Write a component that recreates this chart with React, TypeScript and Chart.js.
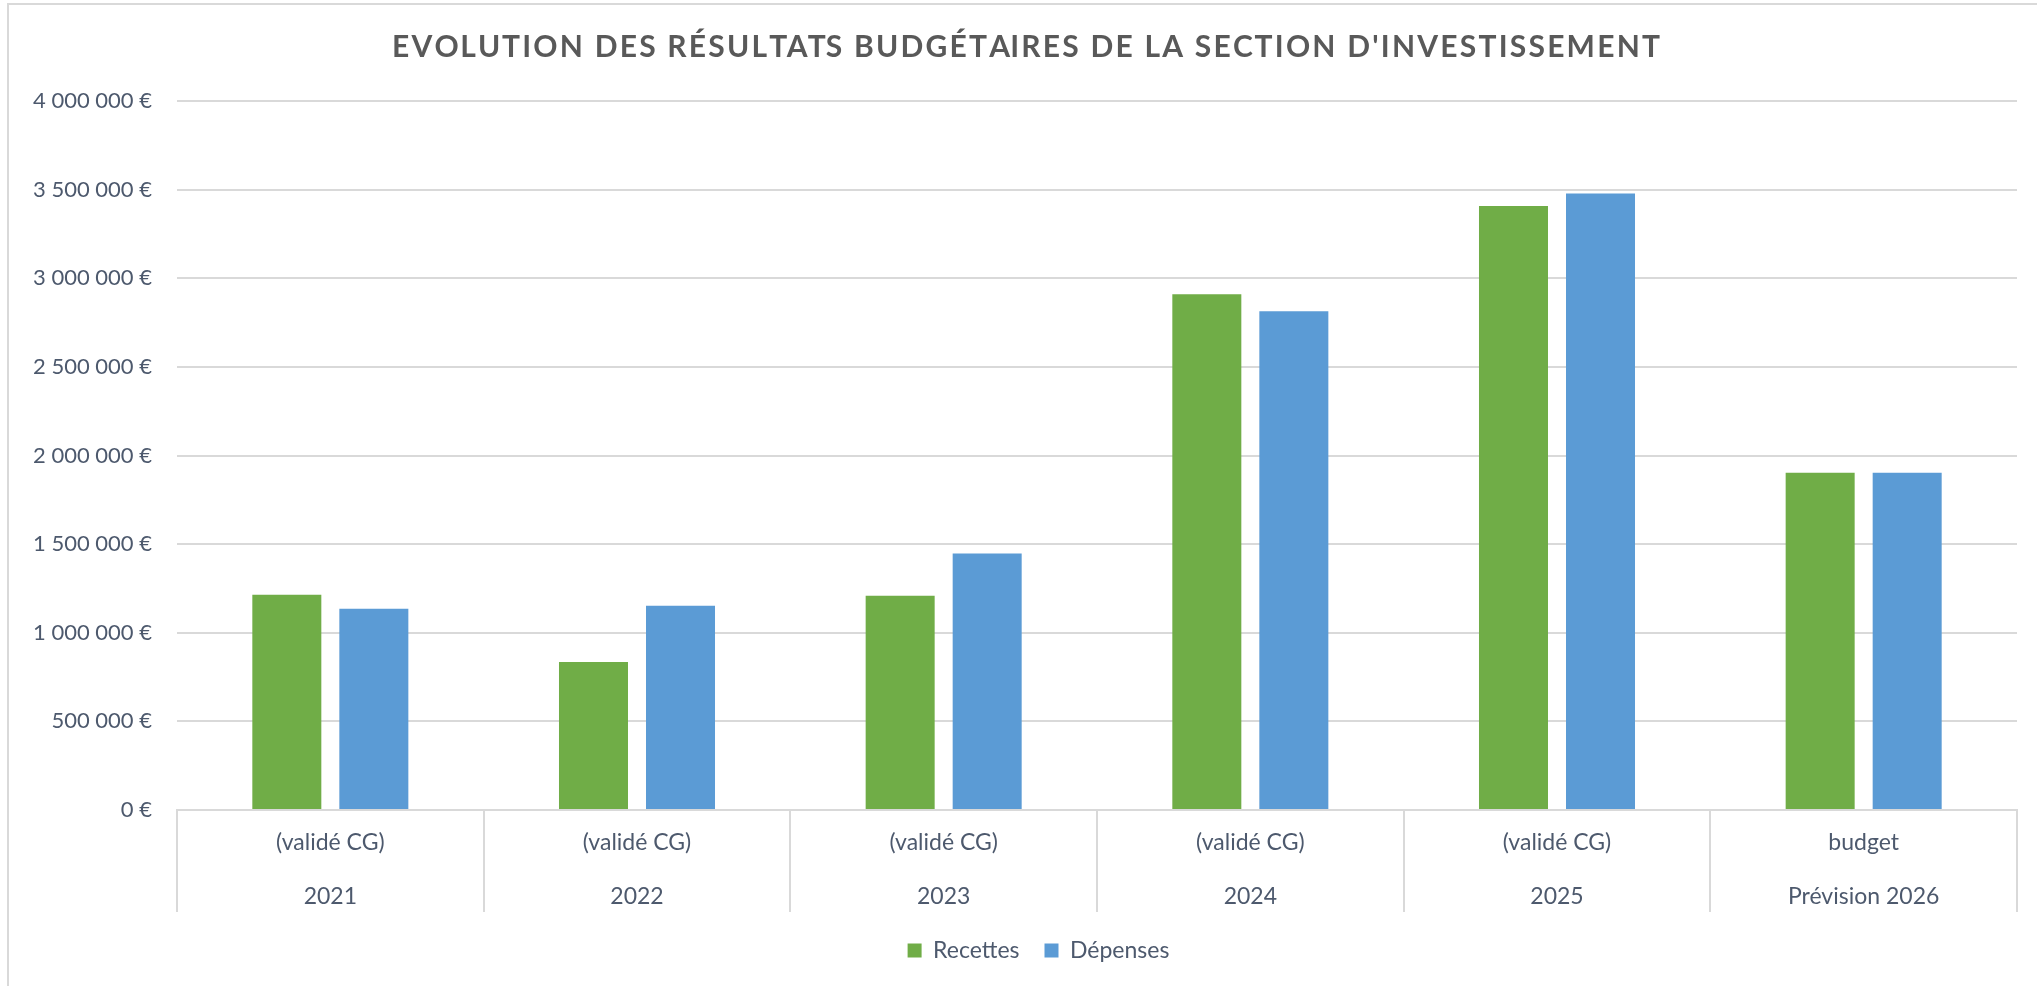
import React, { useEffect, useRef } from 'react';
import { Chart, registerables } from 'chart.js';

Chart.register(...registerables);

const years = ['2021', '2022', '2023', '2024', '2025', 'Prévision 2026'];
const statuses = ['(validé CG)', '(validé CG)', '(validé CG)', '(validé CG)', '(validé CG)', 'budget'];
const recettes = [1215000, 835000, 1209000, 2910000, 3408000, 1903000];
const depenses = [1135000, 1152000, 1447000, 2814000, 3478000, 1903000];
const seriesNames = ['Recettes', 'Dépenses'];
const yMax = 4000000;
const yStep = 500000;
const titleText = "EVOLUTION DES RÉSULTATS BUDGÉTAIRES DE LA SECTION D'INVESTISSEMENT";

const GREEN = '#70AD47';
const BLUE = '#5B9BD5';
const GRID = '#D9D9D9';
const LABEL = '#4D596D';
const FONT = 'Lato, "Open Sans", sans-serif';

const formatEuro = (v: number) =>
  String(Math.round(v)).replace(/\B(?=(\d{3})+(?!\d))/g, ' ') + ' €';

const framePlugin = {
  id: 'frame',
  beforeDraw(chart: any) {
    const ctx = chart.ctx;
    ctx.save();
    ctx.fillStyle = '#ffffff';
    ctx.fillRect(0, 0, chart.width, chart.height);
    ctx.strokeStyle = GRID;
    ctx.lineWidth = 2;
    ctx.strokeRect(8, 4, chart.width + 60, chart.height + 60);
    ctx.restore();
  },
  afterLayout(chart: any) {
    const lg = chart.legend;
    if (lg) {
      lg.left += 30;
      lg.right += 30;
    }
  },
  afterDraw(chart: any) {
    const ctx = chart.ctx;
    ctx.save();
    ctx.font = `bold 30px ${FONT}`;
    ctx.fillStyle = '#595959';
    ctx.textAlign = 'left';
    ctx.textBaseline = 'alphabetic';
    const targetWidth = 1268;
    const centerX = 1026;
    const n = titleText.length;
    const w0 = ctx.measureText(titleText).width;
    const s = (targetWidth - w0) / (n - 1);
    const x0 = centerX - targetWidth / 2;
    for (let i = 0; i < n; i++) {
      const x = x0 + ctx.measureText(titleText.slice(0, i)).width + i * s;
      ctx.fillText(titleText[i], x, 57);
    }
    ctx.restore();
  },
};

export default function App() {
  const ref = useRef<HTMLCanvasElement | null>(null);

  useEffect(() => {
    if (!ref.current) return;
    const labels = years.map((y, i) => [statuses[i], y]);
    const chart = new Chart(ref.current, {
      type: 'bar',
      data: {
        labels,
        datasets: [
          {
            label: seriesNames[0],
            data: recettes,
            backgroundColor: GREEN,
            borderWidth: 0,
            categoryPercentage: 0.5675,
            barPercentage: 0.793,
          },
          {
            label: seriesNames[1],
            data: depenses,
            backgroundColor: BLUE,
            borderWidth: 0,
            categoryPercentage: 0.5675,
            barPercentage: 0.793,
          },
        ],
      },
      options: {
        responsive: false,
        animation: false,
        devicePixelRatio: 1,
        layout: { padding: { top: 101, right: 20, bottom: 14, left: 0 } },
        plugins: {
          title: { display: false },
          tooltip: { enabled: false },
          legend: {
            position: 'bottom',
            align: 'center',
            labels: {
              boxWidth: 14,
              boxHeight: 14,
              padding: 25,
              color: LABEL,
              font: { family: FONT, size: 23 },
            },
          },
        },
        scales: {
          x: {
            offset: true,
            grid: {
              offset: true,
              drawOnChartArea: false,
              drawTicks: true,
              tickLength: 102,
              color: GRID,
              lineWidth: 2,
            },
            border: { display: true, color: GRID, width: 2 },
            ticks: {
              autoSkip: false,
              maxRotation: 0,
              minRotation: 0,
              padding: -96,
              color: LABEL,
              font: { family: FONT, size: 23, lineHeight: 54 / 23 },
            },
            afterFit: (s: any) => {
              s.height = 104;
            },
          },
          y: {
            min: 0,
            max: yMax,
            ticks: {
              stepSize: yStep,
              padding: 25,
              color: LABEL,
              font: { family: FONT, size: 22 },
              callback: (v: any) => formatEuro(Number(v)),
            },
            grid: { color: GRID, lineWidth: 2, drawTicks: false },
            border: { display: false },
            afterFit: (s: any) => {
              s.width = 177;
            },
          },
        },
      },
      plugins: [framePlugin],
    });
    return () => chart.destroy();
  }, []);

  return (
    <div style={{ position: 'fixed', left: 0, top: 0, width: 2037, height: 986, background: '#fff' }}>
      <canvas ref={ref} width={2037} height={986} style={{ display: 'block' }} />
    </div>
  );
}
